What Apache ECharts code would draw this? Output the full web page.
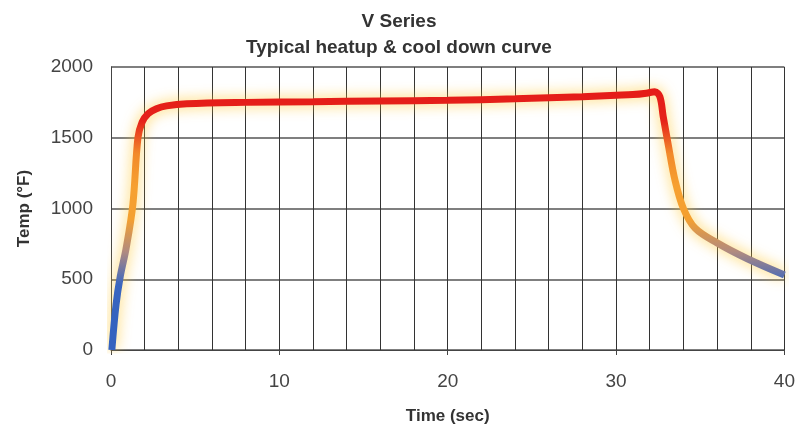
<!DOCTYPE html>
<html>
<head>
<meta charset="utf-8">
<script src="https://cdn.jsdelivr.net/npm/echarts@6/dist/echarts.min.js"></script>
<style>
  html, body { margin: 0; padding: 0; background: #fff; }
  #chart { width: 798px; height: 435px; }
</style>
</head>
<body>
<div id="chart"></div>
<script>
// time (sec) and temperature (°F)
const times = [0.05, 0.3, 0.55, 0.9, 1.3, 1.6, 1.85, 2.2, 2.7, 3.3, 4.5, 8, 12, 16, 20, 24, 28, 30, 31, 31.8, 32.3, 32.6, 32.8, 33.1, 33.5, 34, 34.7, 36, 37.8, 40];
const temps = [0, 320, 520, 720, 1030, 1500, 1610, 1670, 1705, 1725, 1740, 1750, 1755, 1760, 1765, 1775, 1790, 1800, 1805, 1815, 1825, 1790, 1650, 1450, 1200, 1000, 860, 757, 645, 530];

const titleText = 'V Series\nTypical heatup & cool down curve';
const xTicks = [0, 10, 20, 30, 40];
const yTicks = [0, 500, 1000, 1500, 2000];

const chart = echarts.init(document.getElementById('chart'));
const font = 'Liberation Sans, Arial, sans-serif';

chart.setOption({
    animation: false,
    title: {
        text: titleText,
        left: 'center',
        top: 4,
        textStyle: {
            fontFamily: font,
            fontSize: 19,
            fontWeight: 'bold',
            color: '#333',
            lineHeight: 26,
        },
    },
    grid: { left: 111, right: 10, top: 67, bottom: 85 },
    xAxis: {
        type: 'value',
        min: xTicks[0],
        max: xTicks[xTicks.length - 1],
        interval: 10,
        name: 'Time (sec)',
        nameLocation: 'middle',
        nameGap: 58,
        nameTextStyle: { fontFamily: font, fontSize: 17, fontWeight: 'bold', color: '#333' },
        axisLine: { show: true, lineStyle: { color: '#444', width: 1 } },
        axisTick: { show: true, length: 5, inside: false, lineStyle: { color: '#444' } },
        axisLabel: { margin: 22, fontFamily: font, fontSize: 19, color: '#444', formatter: (v) => String(v) },
        splitLine: { show: true, lineStyle: { color: '#333', width: 1 } },
        minorTick: { show: false, splitNumber: 5 },
        minorSplitLine: { show: true, lineStyle: { color: '#333', width: 1 } },
    },
    yAxis: {
        type: 'value',
        min: yTicks[0],
        max: yTicks[yTicks.length - 1],
        interval: 500,
        name: 'Temp (°F)',
        nameLocation: 'middle',
        nameRotate: 90,
        nameGap: 78,
        nameTextStyle: { fontFamily: font, fontSize: 17, fontWeight: 'bold', color: '#333' },
        axisLine: { show: true, lineStyle: { color: '#444', width: 1 } },
        axisTick: { show: false },
        axisLabel: { margin: 18, fontFamily: font, fontSize: 19, color: '#444', formatter: (v) => String(v) },
        splitLine: { show: true, lineStyle: { color: '#555', width: 1.5 } },
    },
    visualMap: {
        show: false,
        type: 'continuous',
        dimension: 1,
        min: 0,
        max: 1850,
        inRange: {
            color: ['#3563bf', '#3563bf', '#3a66c0', '#b08a80', '#f4a030', '#f6a030', '#f28a2a', '#e5221a', '#e51c18'],
        },
    },
    series: [
        {
            type: 'line',
            data: times.map((t, i) => [t, temps[i]]),
            smooth: 0.35,
            showSymbol: false,
            clip: true,
            lineStyle: {
                width: 7,
                shadowBlur: 14,
                shadowColor: 'rgba(255, 200, 50, 0.85)',
            },
        },
    ],
});
</script>
</body>
</html>
